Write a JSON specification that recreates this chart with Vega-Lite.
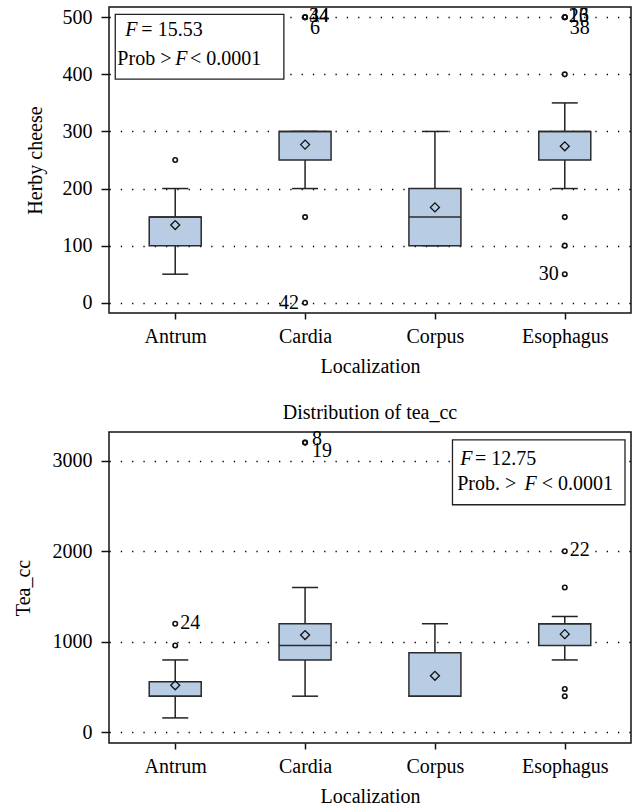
{
  "$schema": "https://vega.github.io/schema/vega-lite/v6.json",
  "padding": {"left": 12, "top": 5, "right": 5, "bottom": 2},
  "background": "white",
  "spacing": 24,
  "datasets": {
    "herby": [
      {"loc": "Antrum", "lo": 50, "q1": 100, "med": 150, "q3": 150, "hi": 200, "mean": 136},
      {"loc": "Cardia", "lo": 200, "q1": 250, "med": 300, "q3": 300, "hi": 300, "mean": 277},
      {"loc": "Corpus", "lo": 100, "q1": 100, "med": 150, "q3": 200, "hi": 300, "mean": 167},
      {"loc": "Esophagus", "lo": 200, "q1": 250, "med": 300, "q3": 300, "hi": 350, "mean": 274}
    ],
    "herby_out": [
      {"loc": "Antrum", "value": 250, "label": ""},
      {"loc": "Cardia", "value": 500, "label": "34"},
      {"loc": "Cardia", "value": 500, "label": "44"},
      {"loc": "Cardia", "value": 500, "label": "6"},
      {"loc": "Cardia", "value": 150, "label": ""},
      {"loc": "Cardia", "value": 0, "label": "42"},
      {"loc": "Esophagus", "value": 500, "label": "26"},
      {"loc": "Esophagus", "value": 500, "label": "13"},
      {"loc": "Esophagus", "value": 500, "label": "38"},
      {"loc": "Esophagus", "value": 400, "label": ""},
      {"loc": "Esophagus", "value": 150, "label": ""},
      {"loc": "Esophagus", "value": 100, "label": ""},
      {"loc": "Esophagus", "value": 50, "label": "30"}
    ],
    "tea": [
      {"loc": "Antrum", "lo": 160, "q1": 400, "med": 400, "q3": 560, "hi": 800, "mean": 520},
      {"loc": "Cardia", "lo": 400, "q1": 800, "med": 960, "q3": 1200, "hi": 1600, "mean": 1075},
      {"loc": "Corpus", "lo": 400, "q1": 400, "med": 400, "q3": 880, "hi": 1200, "mean": 625},
      {"loc": "Esophagus", "lo": 800, "q1": 960, "med": 1200, "q3": 1200, "hi": 1280, "mean": 1085}
    ],
    "tea_out": [
      {"loc": "Antrum", "value": 960, "label": ""},
      {"loc": "Antrum", "value": 1200, "label": "24"},
      {"loc": "Cardia", "value": 3200, "label": "8"},
      {"loc": "Cardia", "value": 3200, "label": "19"},
      {"loc": "Esophagus", "value": 2000, "label": "22"},
      {"loc": "Esophagus", "value": 1600, "label": ""},
      {"loc": "Esophagus", "value": 480, "label": ""},
      {"loc": "Esophagus", "value": 400, "label": ""}
    ]
  },
  "vconcat": [
    {
      "width": 522,
      "height": 306,
      "resolve": {"scale": {"x": "independent", "y": "independent"}},
      "layer": [
        {
          "data": {"name": "herby"},
          "encoding": {
            "x": {"field": "loc", "type": "nominal", "scale": {"type": "point", "padding": 0.51, "domain": ["Antrum", "Cardia", "Corpus", "Esophagus"]}, "axis": {"title": "Localization", "labelAngle": 0, "tickSize": 6, "labelPadding": 7, "titlePadding": 10, "labelFont": "Liberation Serif", "titleFont": "Liberation Serif"}}
          },
          "layer": [
            {"mark": {"type": "rule", "stroke": "#222222", "strokeWidth": 1.5},
             "encoding": {"y": {"field": "lo", "type": "quantitative", "title": "Herby cheese", "scale": {"domain": [-18, 518], "nice": false, "zero": false}, "axis": {"values": [0, 100, 200, 300, 400, 500], "format": "d", "titlePadding": 17, "labelFont": "Liberation Serif", "titleFont": "Liberation Serif"}}, "y2": {"field": "hi"}}},
            {"mark": {"type": "tick", "color": "#222222", "size": 26, "thickness": 1.5, "opacity": 1},
             "encoding": {"y": {"field": "lo", "type": "quantitative", "title": "Herby cheese"}}},
            {"mark": {"type": "tick", "color": "#222222", "size": 26, "thickness": 1.5, "opacity": 1},
             "encoding": {"y": {"field": "hi", "type": "quantitative", "title": "Herby cheese"}}},
            {"mark": {"type": "bar", "width": 52, "fill": "#b8cde4", "stroke": "#2b2b2b", "strokeWidth": 1.5},
             "encoding": {"y": {"field": "q1", "type": "quantitative", "title": "Herby cheese"}, "y2": {"field": "q3"}}},
            {"mark": {"type": "tick", "color": "#2b2b2b", "size": 52, "thickness": 1.5, "opacity": 1},
             "encoding": {"y": {"field": "med", "type": "quantitative", "title": "Herby cheese"}}},
            {"mark": {"type": "point", "shape": "diamond", "filled": false, "stroke": "#111111", "strokeWidth": 1.3, "size": 81, "opacity": 1},
             "encoding": {"y": {"field": "mean", "type": "quantitative", "title": "Herby cheese"}}},
            {"data": {"name": "herby_out"},
             "mark": {"type": "point", "shape": "circle", "filled": false, "stroke": "#111111", "strokeWidth": 1.6, "size": 20, "opacity": 1},
             "encoding": {"y": {"field": "value", "type": "quantitative", "title": "Herby cheese"}}},
            {"data": {"name": "herby_out"},
             "transform": [{"filter": {"field": "label", "oneOf": ["34", "44", "26", "13"]}}],
             "mark": {"type": "text", "align": "left", "baseline": "middle", "dx": 4, "dy": -1, "fontSize": 20, "font": "Liberation Serif", "color": "black"},
             "encoding": {"y": {"field": "value", "type": "quantitative", "title": "Herby cheese"}, "text": {"field": "label"}}},
            {"data": {"name": "herby_out"},
             "transform": [{"filter": {"field": "label", "oneOf": ["6", "38"]}}],
             "mark": {"type": "text", "align": "left", "baseline": "middle", "dx": 5, "dy": 11, "fontSize": 20, "font": "Liberation Serif", "color": "black"},
             "encoding": {"y": {"field": "value", "type": "quantitative", "title": "Herby cheese"}, "text": {"field": "label"}}},
            {"data": {"name": "herby_out"},
             "transform": [{"filter": {"field": "label", "oneOf": ["42", "30"]}}],
             "mark": {"type": "text", "align": "right", "baseline": "middle", "dx": -6, "fontSize": 20, "font": "Liberation Serif", "color": "black"},
             "encoding": {"y": {"field": "value", "type": "quantitative", "title": "Herby cheese"}, "text": {"field": "label"}}}
          ]
        },
        {
          "data": {"values": [{"note": "anova"}]},
          "layer": [
            {"mark": {"type": "rect", "fill": "white", "stroke": "#222222", "strokeWidth": 1.3},
             "encoding": {
               "x": {"datum": 0.012, "type": "quantitative", "scale": {"domain": [0, 1]}, "axis": null},
               "x2": {"datum": 0.335},
               "y": {"datum": 0.976, "type": "quantitative", "scale": {"domain": [0, 1]}, "axis": null},
               "y2": {"datum": 0.764}}},
            {"mark": {"type": "text", "align": "left", "baseline": "middle", "fontSize": 20, "font": "Liberation Serif", "fontStyle": "italic", "color": "black"},
             "encoding": {"x": {"datum": 0.031, "type": "quantitative", "scale": {"domain": [0, 1]}, "axis": null}, "y": {"datum": 0.924, "type": "quantitative", "scale": {"domain": [0, 1]}, "axis": null}, "text": {"value": "F"}}},
            {"mark": {"type": "text", "align": "left", "baseline": "middle", "fontSize": 20, "font": "Liberation Serif", "color": "black"},
             "encoding": {"x": {"datum": 0.062, "type": "quantitative", "scale": {"domain": [0, 1]}, "axis": null}, "y": {"datum": 0.924, "type": "quantitative", "scale": {"domain": [0, 1]}, "axis": null}, "text": {"value": "= 15.53"}}},
            {"mark": {"type": "text", "align": "left", "baseline": "middle", "fontSize": 20, "font": "Liberation Serif", "color": "black"},
             "encoding": {"x": {"datum": 0.016, "type": "quantitative", "scale": {"domain": [0, 1]}, "axis": null}, "y": {"datum": 0.829, "type": "quantitative", "scale": {"domain": [0, 1]}, "axis": null}, "text": {"value": "Prob >"}}},
            {"mark": {"type": "text", "align": "left", "baseline": "middle", "fontSize": 20, "font": "Liberation Serif", "fontStyle": "italic", "color": "black"},
             "encoding": {"x": {"datum": 0.127, "type": "quantitative", "scale": {"domain": [0, 1]}, "axis": null}, "y": {"datum": 0.829, "type": "quantitative", "scale": {"domain": [0, 1]}, "axis": null}, "text": {"value": "F"}}},
            {"mark": {"type": "text", "align": "left", "baseline": "middle", "fontSize": 20, "font": "Liberation Serif", "color": "black"},
             "encoding": {"x": {"datum": 0.155, "type": "quantitative", "scale": {"domain": [0, 1]}, "axis": null}, "y": {"datum": 0.829, "type": "quantitative", "scale": {"domain": [0, 1]}, "axis": null}, "text": {"value": "< 0.0001"}}}
          ]
        }
      ]
    },
    {
      "width": 522,
      "height": 311,
      "title": {"text": "Distribution of tea_cc", "offset": 6},
      "resolve": {"scale": {"x": "independent", "y": "independent"}},
      "layer": [
        {
          "data": {"name": "tea"},
          "encoding": {
            "x": {"field": "loc", "type": "nominal", "scale": {"type": "point", "padding": 0.51, "domain": ["Antrum", "Cardia", "Corpus", "Esophagus"]}, "axis": {"title": "Localization", "labelAngle": 0, "tickSize": 6, "labelPadding": 7, "titlePadding": 10, "labelFont": "Liberation Serif", "titleFont": "Liberation Serif"}}
          },
          "layer": [
            {"mark": {"type": "rule", "stroke": "#222222", "strokeWidth": 1.5},
             "encoding": {"y": {"field": "lo", "type": "quantitative", "title": "Tea_cc", "scale": {"domain": [-117, 3317], "nice": false, "zero": false}, "axis": {"values": [0, 1000, 2000, 3000], "format": "d", "titlePadding": 19, "labelFont": "Liberation Serif", "titleFont": "Liberation Serif"}}, "y2": {"field": "hi"}}},
            {"mark": {"type": "tick", "color": "#222222", "size": 26, "thickness": 1.5, "opacity": 1},
             "encoding": {"y": {"field": "lo", "type": "quantitative", "title": "Tea_cc"}}},
            {"mark": {"type": "tick", "color": "#222222", "size": 26, "thickness": 1.5, "opacity": 1},
             "encoding": {"y": {"field": "hi", "type": "quantitative", "title": "Tea_cc"}}},
            {"mark": {"type": "bar", "width": 52, "fill": "#b8cde4", "stroke": "#2b2b2b", "strokeWidth": 1.5},
             "encoding": {"y": {"field": "q1", "type": "quantitative", "title": "Tea_cc"}, "y2": {"field": "q3"}}},
            {"mark": {"type": "tick", "color": "#2b2b2b", "size": 52, "thickness": 1.5, "opacity": 1},
             "encoding": {"y": {"field": "med", "type": "quantitative", "title": "Tea_cc"}}},
            {"mark": {"type": "point", "shape": "diamond", "filled": false, "stroke": "#111111", "strokeWidth": 1.3, "size": 81, "opacity": 1},
             "encoding": {"y": {"field": "mean", "type": "quantitative", "title": "Tea_cc"}}},
            {"data": {"name": "tea_out"},
             "mark": {"type": "point", "shape": "circle", "filled": false, "stroke": "#111111", "strokeWidth": 1.6, "size": 20, "opacity": 1},
             "encoding": {"y": {"field": "value", "type": "quantitative", "title": "Tea_cc"}}},
            {"data": {"name": "tea_out"},
             "transform": [{"filter": {"field": "label", "oneOf": ["24", "22"]}}],
             "mark": {"type": "text", "align": "left", "baseline": "middle", "dx": 5, "dy": -1, "fontSize": 20, "font": "Liberation Serif", "color": "black"},
             "encoding": {"y": {"field": "value", "type": "quantitative", "title": "Tea_cc"}, "text": {"field": "label"}}},
            {"data": {"name": "tea_out"},
             "transform": [{"filter": {"field": "label", "oneOf": ["8"]}}],
             "mark": {"type": "text", "align": "left", "baseline": "middle", "dx": 7, "dy": -4, "fontSize": 20, "font": "Liberation Serif", "color": "black"},
             "encoding": {"y": {"field": "value", "type": "quantitative", "title": "Tea_cc"}, "text": {"field": "label"}}},
            {"data": {"name": "tea_out"},
             "transform": [{"filter": {"field": "label", "oneOf": ["19"]}}],
             "mark": {"type": "text", "align": "left", "baseline": "middle", "dx": 7, "dy": 8, "fontSize": 20, "font": "Liberation Serif", "color": "black"},
             "encoding": {"y": {"field": "value", "type": "quantitative", "title": "Tea_cc"}, "text": {"field": "label"}}}
          ]
        },
        {
          "data": {"values": [{"note": "anova"}]},
          "layer": [
            {"mark": {"type": "rect", "fill": "white", "stroke": "#222222", "strokeWidth": 1.3},
             "encoding": {
               "x": {"datum": 0.658, "type": "quantitative", "scale": {"domain": [0, 1]}, "axis": null},
               "x2": {"datum": 0.9885},
               "y": {"datum": 0.975, "type": "quantitative", "scale": {"domain": [0, 1]}, "axis": null},
               "y2": {"datum": 0.766}}},
            {"mark": {"type": "text", "align": "left", "baseline": "middle", "fontSize": 20, "font": "Liberation Serif", "fontStyle": "italic", "color": "black"},
             "encoding": {"x": {"datum": 0.673, "type": "quantitative", "scale": {"domain": [0, 1]}, "axis": null}, "y": {"datum": 0.914, "type": "quantitative", "scale": {"domain": [0, 1]}, "axis": null}, "text": {"value": "F"}}},
            {"mark": {"type": "text", "align": "left", "baseline": "middle", "fontSize": 20, "font": "Liberation Serif", "color": "black"},
             "encoding": {"x": {"datum": 0.701, "type": "quantitative", "scale": {"domain": [0, 1]}, "axis": null}, "y": {"datum": 0.914, "type": "quantitative", "scale": {"domain": [0, 1]}, "axis": null}, "text": {"value": "= 12.75"}}},
            {"mark": {"type": "text", "align": "left", "baseline": "middle", "fontSize": 20, "font": "Liberation Serif", "color": "black"},
             "encoding": {"x": {"datum": 0.667, "type": "quantitative", "scale": {"domain": [0, 1]}, "axis": null}, "y": {"datum": 0.834, "type": "quantitative", "scale": {"domain": [0, 1]}, "axis": null}, "text": {"value": "Prob. >"}}},
            {"mark": {"type": "text", "align": "left", "baseline": "middle", "fontSize": 20, "font": "Liberation Serif", "fontStyle": "italic", "color": "black"},
             "encoding": {"x": {"datum": 0.796, "type": "quantitative", "scale": {"domain": [0, 1]}, "axis": null}, "y": {"datum": 0.834, "type": "quantitative", "scale": {"domain": [0, 1]}, "axis": null}, "text": {"value": "F"}}},
            {"mark": {"type": "text", "align": "left", "baseline": "middle", "fontSize": 20, "font": "Liberation Serif", "color": "black"},
             "encoding": {"x": {"datum": 0.829, "type": "quantitative", "scale": {"domain": [0, 1]}, "axis": null}, "y": {"datum": 0.834, "type": "quantitative", "scale": {"domain": [0, 1]}, "axis": null}, "text": {"value": "< 0.0001"}}}
          ]
        }
      ]
    }
  ],
  "config": {
    "font": "Liberation Serif",
    "view": {"stroke": "#111111", "strokeWidth": 1.5},
    "axis": {
      "labelFont": "Liberation Serif", "titleFont": "Liberation Serif",
      "labelFontSize": 20, "titleFontSize": 20, "titleFontWeight": "normal",
      "labelColor": "black", "titleColor": "black",
      "tickColor": "#111111", "tickWidth": 1.5, "tickSize": 8,
      "domain": false, "grid": false
    },
    "axisY": {"grid": true, "gridColor": "black", "gridDash": [1.3, 10], "gridWidth": 1.3, "gridOpacity": 1, "labelPadding": 9},
    "title": {"font": "Liberation Serif", "fontSize": 20, "fontWeight": "normal", "color": "black"}
  }
}
